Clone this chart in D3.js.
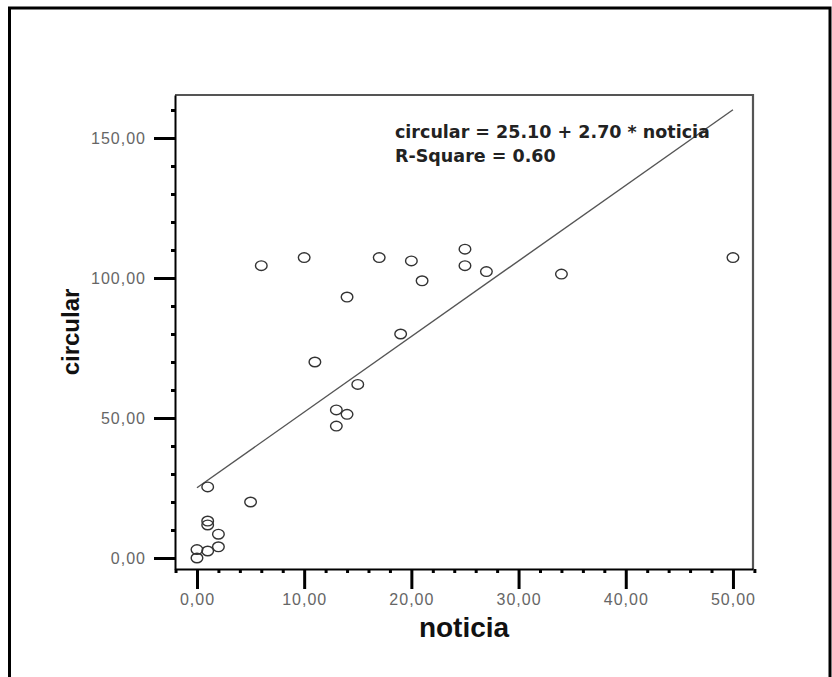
<!DOCTYPE html>
<html>
<head>
<meta charset="utf-8">
<script src="https://cdn.jsdelivr.net/npm/d3@7"></script>
<style>
html,body{margin:0;padding:0;background:#fff;}
svg{display:block;}
</style>
</head>
<body>
<svg id="chart" width="832" height="677"></svg>
<script>
// Data (noticia, circular)
const noticia  = [0, 0, 1, 2, 2, 1, 1, 1, 5, 6, 10, 11, 13, 13, 14, 14, 15, 17, 19, 20, 21, 25, 25, 27, 34, 50];
const circular = [0, 3, 2.5, 4, 8.5, 13.2, 11.8, 25.4, 20, 104.4, 107.3, 70, 52.9, 47.1, 51.3, 93.2, 62, 107.3, 80, 106.1, 99, 110.3, 104.4, 102.3, 101.4, 107.3];
const xMajorTicks = [0, 10, 20, 30, 40, 50];
const yMajorTicks = [0, 50, 100, 150];
const xMinorTicks = [-2, 2, 4, 6, 8, 12, 14, 16, 18, 22, 24, 26, 28, 32, 34, 36, 38, 42, 44, 46, 48, 52];
const yMinorTicks = [10, 20, 30, 40, 60, 70, 80, 90, 110, 120, 130, 140, 160];
const intercept = 25.10;
const slope = 2.70;
const equationLines = ["circular = 25.10 + 2.70 * noticia", "R-Square = 0.60"];
const xTitle = "noticia";
const yTitle = "circular";

const svg = d3.select("#chart");
const L = 175, R = 753, T = 95, B = 569;
const x = d3.scaleLinear().domain([-2.05, 51.87]).range([L, R]);
const y = d3.scaleLinear().domain([-3.93, 165.36]).range([B, T]);
const fmt = d => d3.format(".2f")(d).replace(".", ",");

// outer frame
svg.append("rect").attr("x", 9.5).attr("y", 8).attr("width", 820.5).attr("height", 700)
  .attr("fill", "#fff").attr("stroke", "#000").attr("stroke-width", 3);

// plot frame top/right
svg.append("path").attr("d", `M${L},${T}H${R}V${B}`).attr("fill", "none")
  .attr("stroke", "#555").attr("stroke-width", 2.2);

// axes
const xAxis = d3.axisBottom(x).tickValues(xMajorTicks).tickSize(20).tickFormat(fmt).tickSizeOuter(0);
const gx = svg.append("g").attr("transform", `translate(0,${B})`).call(xAxis);
gx.select(".domain").attr("stroke", "#000").attr("stroke-width", 2);
gx.selectAll(".tick line").attr("stroke", "#000").attr("stroke-width", 3);
gx.selectAll(".tick text").attr("dy", null).attr("y", 36)
  .attr("font-family", "'Liberation Sans', Arial, sans-serif").attr("font-size", 16)
  .attr("letter-spacing", 1).attr("fill", "#666");
const gxm = svg.append("g").attr("transform", `translate(0,${B})`)
  .call(d3.axisBottom(x).tickValues(xMinorTicks).tickSize(4).tickFormat(""));
gxm.select(".domain").remove();
gxm.selectAll(".tick line").attr("stroke", "#000").attr("stroke-width", 3);

const yAxis = d3.axisLeft(y).tickValues(yMajorTicks).tickSize(21).tickFormat(fmt).tickSizeOuter(0);
const gy = svg.append("g").attr("transform", `translate(${L},0)`).call(yAxis);
gy.select(".domain").attr("stroke", "#000").attr("stroke-width", 2);
gy.selectAll(".tick line").attr("stroke", "#000").attr("stroke-width", 3);
gy.selectAll(".tick text").attr("x", -29)
  .attr("font-family", "'Liberation Sans', Arial, sans-serif").attr("font-size", 16)
  .attr("letter-spacing", 1).attr("fill", "#666");
const gym = svg.append("g").attr("transform", `translate(${L},0)`)
  .call(d3.axisLeft(y).tickValues(yMinorTicks).tickSize(4).tickFormat(""));
gym.select(".domain").remove();
gym.selectAll(".tick line").attr("stroke", "#000").attr("stroke-width", 3);

// regression line
const xMin = d3.min(noticia), xMax = d3.max(noticia);
svg.append("line")
  .attr("x1", x(xMin)).attr("y1", y(intercept + slope * xMin))
  .attr("x2", x(xMax)).attr("y2", y(intercept + slope * xMax))
  .attr("stroke", "#555").attr("stroke-width", 1.4);

// points
svg.append("g").selectAll("ellipse").data(noticia.map((d, i) => [d, circular[i]]))
  .join("ellipse")
  .attr("cx", d => x(d[0])).attr("cy", d => y(d[1])).attr("rx", 5.8).attr("ry", 4.8)
  .attr("fill", "none").attr("stroke", "#333").attr("stroke-width", 1.4);

// equation text
svg.append("g").selectAll("text").data(equationLines).join("text")
  .attr("x", 395).attr("y", (d, i) => 138 + i * 23.5)
  .attr("font-family", "'DejaVu Sans', Verdana, sans-serif").attr("font-weight", "bold")
  .attr("font-size", 17.5).attr("fill", "#222").text(d => d);

// axis titles
svg.append("text").attr("x", (L + R) / 2).attr("y", 637).attr("text-anchor", "middle")
  .attr("font-family", "'Liberation Sans', Arial, sans-serif").attr("font-weight", "bold")
  .attr("font-size", 28).attr("fill", "#111").text(xTitle);
svg.append("text").attr("transform", `translate(79,${(T + B) / 2}) rotate(-90)`)
  .attr("text-anchor", "middle")
  .attr("font-family", "'Liberation Sans', Arial, sans-serif").attr("font-weight", "bold")
  .attr("font-size", 24).attr("fill", "#111").text(yTitle);
</script>
</body>
</html>
